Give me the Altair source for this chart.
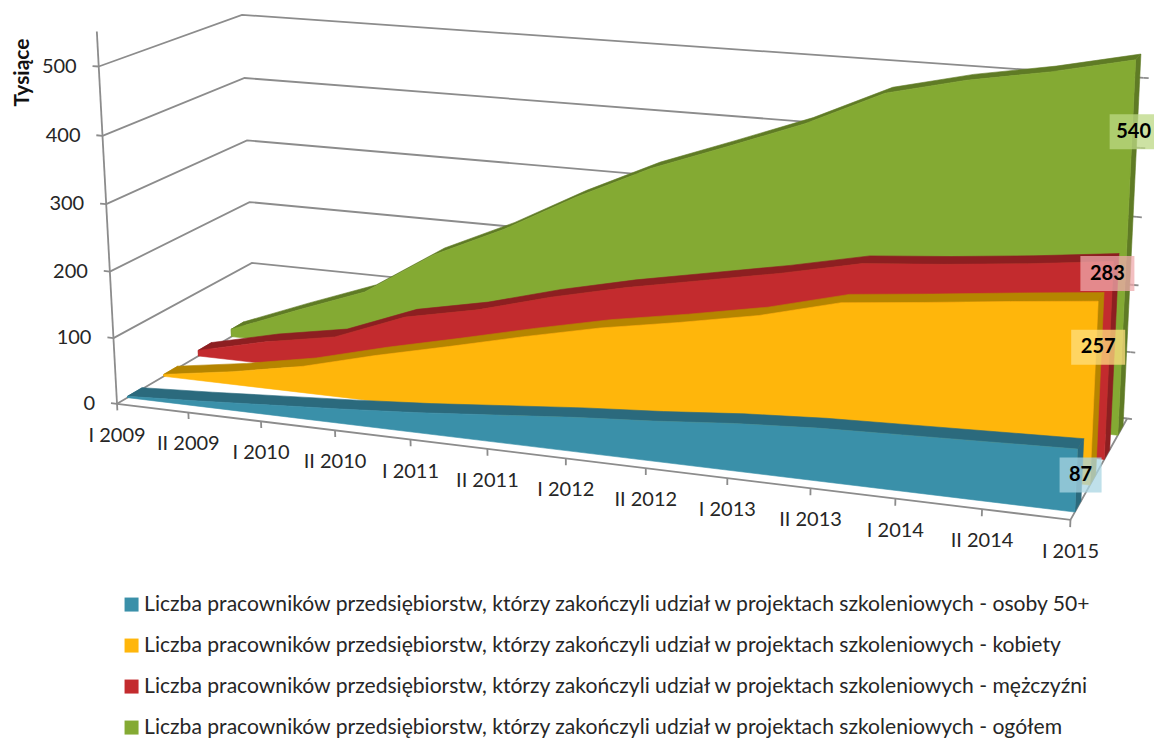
import numpy as np
import pandas as pd
import altair as alt

# ---- data ----
periods = ["I 2009","II 2009","I 2010","II 2010","I 2011","II 2011","I 2012","II 2012","I 2013","II 2013","I 2014","II 2014","I 2015"]
blue   = [2, 8, 15, 22, 30, 40, 50, 58, 68, 75, 79, 83, 87]
yellow = [3, 20, 41, 70, 96, 123, 148, 168, 190, 220, 232, 245, 257]
red    = [9, 35, 55, 98, 121, 152, 178, 200, 222, 247, 257, 269, 283]
green  = [12, 55, 96, 166, 217, 277, 330, 372, 415, 468, 495, 515, 540]
y_ticks = [0, 100, 200, 300, 400, 500]
prefix = "Liczba pracowników przedsiębiorstw, którzy zakończyli udział w projektach szkoleniowych - "
names = [prefix + s for s in ["osoby 50+", "kobiety", "mężczyźni", "ogółem"]]
series = [blue, yellow, red, green]
front_cols = ["#3A90A9", "#FFB60B", "#C32B2E", "#84AA33"]
top_cols   = ["#2B6A7D", "#B58500", "#8D1F21", "#5F7B25"]
tint_cols  = ["#A9D6E3", "#FFDF80", "#EFA9AC", "#BCD884"]

# ---- perspective camera of the 3-D chart: (period, value, depth) -> page pixels ----
world = np.array([[0,0,0],[0,500,0],[0,0,1],[0,500,1],[12,0,0],[12,500,0],[12,0,1],[12,500,1]], float)
image = np.array([[117,403],[98,65],[254,324],[243,16],[1071,518],[1087,148],[1127,420],[1143,74]], float)
A = []
for (Xw,Yw,Zw),(u,v) in zip(world,image):
    A.append([Xw,Yw,Zw,1,0,0,0,0,-u*Xw,-u*Yw,-u*Zw,-u])
    A.append([0,0,0,0,Xw,Yw,Zw,1,-v*Xw,-v*Yw,-v*Zw,-v])
P = np.linalg.svd(np.array(A))[2][-1].reshape(3,4)
def proj(t, val, z):
    h = P @ np.array([t, val, z, 1.0])
    return float(h[0]/h[2]), float(h[1]/h[2])

def frame(pts, **kw):
    rows = []
    for i, (t, val, z) in enumerate(pts):
        px, py = proj(t, val, z)
        rows.append(dict(px=px, py=py, o=i, **kw))
    return pd.DataFrame(rows)

W, H = 1146, 730
SX = alt.Scale(domain=[8, 8+W], nice=False, zero=False)
SY = alt.Scale(domain=[8+H, 8], nice=False, zero=False)
X = alt.X("px:Q", scale=SX, axis=None)
Y = alt.Y("py:Q", scale=SY, axis=None)

def line(pts, color="#8C8C8C", width=1.8):
    return alt.Chart(frame(pts)).mark_line(color=color, strokeWidth=width, interpolate="linear").encode(
        x=X, y=Y, order="o:Q")

def poly(pts, color):
    pts = list(pts) + [pts[0]]
    return alt.Chart(frame(pts)).mark_line(fill=color, color=color, strokeWidth=0.6, interpolate="linear").encode(
        x=X, y=Y, order="o:Q")

layers = []
# walls
for v in y_ticks:
    layers.append(line([(0,v,0),(0,v,1),(12,v,1)]))
    layers.append(line([(12,v,1),(12.06,v,1)]))
    layers.append(line([(0,v,0),(-0.085,v,0)]))
layers.append(line([(0,0,0),(0,550,0)]))
layers.append(line([(0,0,0),(12,0,0),(12,0,1)]))
for i in range(13):
    layers.append(line([(i,0,0),(i,-10,0)]))

# legend carrier
leg = pd.DataFrame({"s": names, "px": [-50]*4, "py": [-50]*4})
layers.append(alt.Chart(leg).mark_square(size=0).encode(
    x=X, y=Y,
    color=alt.Color("s:N", scale=alt.Scale(domain=names, range=front_cols),
        legend=alt.Legend(title=None, orient="none", legendX=113, legendY=586, symbolType="square",
                          symbolSize=196, symbolStrokeWidth=0, symbolOpacity=1, labelFontSize=21.1,
                          labelFont="Lato", labelColor="#262626", labelLimit=1100,
                          rowPadding=19, labelOffset=2, columns=1))))

# series, back to front
slots = [(0.07, 0.17), (0.32, 0.42), (0.57, 0.67), (0.82, 0.92)]
for k in [3, 2, 1, 0]:
    vals = series[k]; z0, z1 = slots[k]; n = len(vals)
    top0 = [(t, vals[t], z0) for t in range(n)]
    top1 = [(t, vals[t], z1) for t in range(n)]
    layers.append(poly([(12,0,z0),(12,vals[-1],z0),(12,vals[-1],z1),(12,0,z1)], top_cols[k]))
    layers.append(poly([(0,0,z0),(0,vals[0],z0),(0,vals[0],z1),(0,0,z1)], top_cols[k]))
    layers.append(poly(top0 + top1[::-1], top_cols[k]))
    layers.append(poly([(0,0,z0)] + top0 + [(12,0,z0)], front_cols[k]))

# axis texts
txt = dict(font="Lato", color="#262626", fontSize=20)
ydf = pd.DataFrame([dict(zip(["px","py"], proj(0,v,0)), label=str(v)) for v in y_ticks])
layers.append(alt.Chart(ydf).mark_text(align="right", baseline="middle", dx=-22, dy=0, **txt).encode(x=X, y=Y, text="label:N"))
xdf = pd.DataFrame([dict(zip(["px","py"], proj(i,0,0)), label=p) for i,p in enumerate(periods)])
layers.append(alt.Chart(xdf).mark_text(align="center", baseline="middle", dy=32, **txt).encode(x=X, y=Y, text="label:N"))
tdf = pd.DataFrame([dict(px=proj(0,500,0)[0]-76, py=proj(0,500,0)[1]+6, label="Tysiące")])
layers.append(alt.Chart(tdf).mark_text(angle=270, align="center", baseline="middle",
    font="Lato", fontWeight="bold", fontSize=21, color="#111111").encode(x=X, y=Y, text="label:N"))

# value labels at the last period
offsets = [(3, 26, 21, 21), (0, 46, 27, 27), (-6, 12, 27, 27), (-2, 72, 24, 24)]
for k in [3, 2, 1, 0]:
    val = series[k][-1]
    ax, ay = proj(12, val, slots[k][0])
    dx, dy, hwl, hwr = offsets[k]
    cx, cy = ax+dx, ay+dy
    d = pd.DataFrame([dict(px=cx-hwl, px2=cx+hwr, py=cy-17.5, py2=cy+17.5, cx=cx, cy=cy, label=str(val))])
    layers.append(alt.Chart(d).mark_rect(color=tint_cols[k], opacity=0.75).encode(
        x=X, x2="px2:Q", y=Y, y2="py2:Q"))
    layers.append(alt.Chart(d).mark_text(font="Lato", fontWeight="bold", fontSize=20, color="#000000").encode(
        x=alt.X("cx:Q", scale=SX, axis=None), y=alt.Y("cy:Q", scale=SY, axis=None), text="label:N"))

chart = alt.layer(*layers).properties(width=W, height=H, padding=0,
        autosize=alt.AutoSizeParams(type="none")).configure_view(stroke=None)
chart.save("out.html", embed_options={"renderer": "svg", "actions": False})
